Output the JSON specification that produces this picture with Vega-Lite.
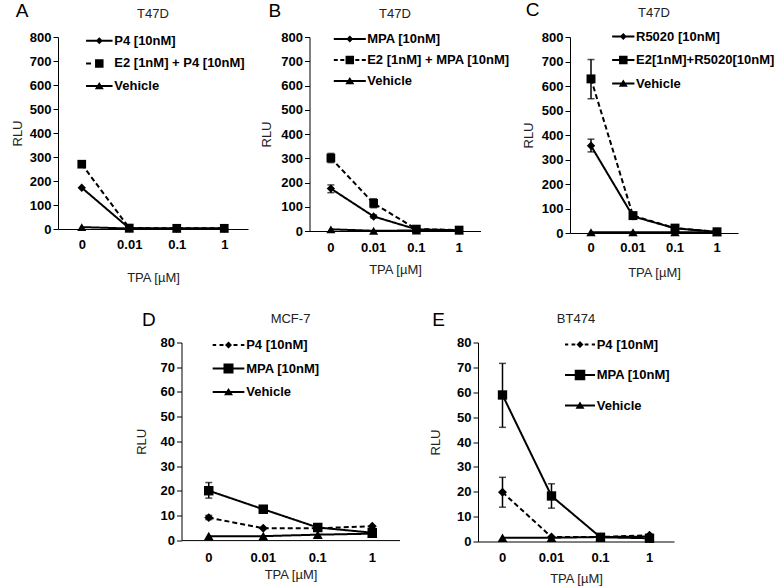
{
  "$schema": "https://vega.github.io/schema/vega-lite/v6.json",
  "padding": {"left": 11, "top": 1, "right": 0, "bottom": 0},
  "datasets": {
    "A": [
      {"series": "P4 [10nM]", "tpa": "0", "value": 172},
      {"series": "P4 [10nM]", "tpa": "0.01", "value": 3},
      {"series": "P4 [10nM]", "tpa": "0.1", "value": 2},
      {"series": "P4 [10nM]", "tpa": "1", "value": 2},
      {"series": "E2 [1nM] + P4 [10nM]", "tpa": "0", "value": 270},
      {"series": "E2 [1nM] + P4 [10nM]", "tpa": "0.01", "value": 4},
      {"series": "E2 [1nM] + P4 [10nM]", "tpa": "0.1", "value": 3},
      {"series": "E2 [1nM] + P4 [10nM]", "tpa": "1", "value": 3},
      {"series": "Vehicle", "tpa": "0", "value": 8},
      {"series": "Vehicle", "tpa": "0.01", "value": 2},
      {"series": "Vehicle", "tpa": "0.1", "value": 2},
      {"series": "Vehicle", "tpa": "1", "value": 2}
    ],
    "B": [
      {"series": "MPA [10nM]", "tpa": "0", "value": 175, "lo": 158, "hi": 190},
      {"series": "MPA [10nM]", "tpa": "0.01", "value": 60, "lo": 54, "hi": 66},
      {"series": "MPA [10nM]", "tpa": "0.1", "value": 7},
      {"series": "MPA [10nM]", "tpa": "1", "value": 3},
      {"series": "E2 [1nM] + MPA [10nM]", "tpa": "0", "value": 301, "lo": 282, "hi": 320},
      {"series": "E2 [1nM] + MPA [10nM]", "tpa": "0.01", "value": 114, "lo": 96, "hi": 133},
      {"series": "E2 [1nM] + MPA [10nM]", "tpa": "0.1", "value": 8},
      {"series": "E2 [1nM] + MPA [10nM]", "tpa": "1", "value": 4},
      {"series": "Vehicle", "tpa": "0", "value": 7},
      {"series": "Vehicle", "tpa": "0.01", "value": 1},
      {"series": "Vehicle", "tpa": "0.1", "value": 2},
      {"series": "Vehicle", "tpa": "1", "value": 2}
    ],
    "C": [
      {"series": "R5020 [10nM]", "tpa": "0", "value": 356, "lo": 331, "hi": 383},
      {"series": "R5020 [10nM]", "tpa": "0.01", "value": 68},
      {"series": "R5020 [10nM]", "tpa": "0.1", "value": 19},
      {"series": "R5020 [10nM]", "tpa": "1", "value": 5},
      {"series": "E2[1nM]+R5020[10nM]", "tpa": "0", "value": 629, "lo": 548, "hi": 708},
      {"series": "E2[1nM]+R5020[10nM]", "tpa": "0.01", "value": 71},
      {"series": "E2[1nM]+R5020[10nM]", "tpa": "0.1", "value": 20},
      {"series": "E2[1nM]+R5020[10nM]", "tpa": "1", "value": 5},
      {"series": "Vehicle", "tpa": "0", "value": 3},
      {"series": "Vehicle", "tpa": "0.01", "value": 3},
      {"series": "Vehicle", "tpa": "0.1", "value": 3},
      {"series": "Vehicle", "tpa": "1", "value": 3}
    ],
    "D": [
      {"series": "P4 [10nM]", "tpa": "0", "value": 9.1, "lo": 8.3, "hi": 10},
      {"series": "P4 [10nM]", "tpa": "0.01", "value": 4.8},
      {"series": "P4 [10nM]", "tpa": "0.1", "value": 4.8},
      {"series": "P4 [10nM]", "tpa": "1", "value": 5.6},
      {"series": "MPA [10nM]", "tpa": "0", "value": 20, "lo": 17, "hi": 23.3},
      {"series": "MPA [10nM]", "tpa": "0.01", "value": 12.5},
      {"series": "MPA [10nM]", "tpa": "0.1", "value": 5.1},
      {"series": "MPA [10nM]", "tpa": "1", "value": 3},
      {"series": "Vehicle", "tpa": "0", "value": 1.6},
      {"series": "Vehicle", "tpa": "0.01", "value": 1.6},
      {"series": "Vehicle", "tpa": "0.1", "value": 2.2},
      {"series": "Vehicle", "tpa": "1", "value": 2.6}
    ],
    "E": [
      {"series": "P4 [10nM]", "tpa": "0", "value": 19.8, "lo": 13.8, "hi": 25.8},
      {"series": "P4 [10nM]", "tpa": "0.01", "value": 1.8},
      {"series": "P4 [10nM]", "tpa": "0.1", "value": 1.8},
      {"series": "P4 [10nM]", "tpa": "1", "value": 2.5},
      {"series": "MPA [10nM]", "tpa": "0", "value": 58.9, "lo": 45.9, "hi": 71.6},
      {"series": "MPA [10nM]", "tpa": "0.01", "value": 18.3, "lo": 13.4, "hi": 23.2},
      {"series": "MPA [10nM]", "tpa": "0.1", "value": 1.7},
      {"series": "MPA [10nM]", "tpa": "1", "value": 1.3},
      {"series": "Vehicle", "tpa": "0", "value": 1.5},
      {"series": "Vehicle", "tpa": "0.01", "value": 1.5},
      {"series": "Vehicle", "tpa": "0.1", "value": 1.8},
      {"series": "Vehicle", "tpa": "1", "value": 2}
    ]
  },
  "spacing": 25.5,
  "vconcat": [
    {
      "spacing": 11.5,
      "hconcat": [
        {
          "title": {"text": "A", "anchor": "start", "frame": "bounds", "fontSize": 19, "color": "black", "offset": -13, "dx": 4},
          "hconcat": [
            {
              "title": {"text": "T47D", "offset": 9.7},
              "width": 190, "height": 192,
              "data": {"name": "A"},
              "resolve": {"scale": {"shape": "independent", "strokeDash": "independent", "size": "independent"}, "legend": {"shape": "independent"}},
              "encoding": {
                "x": {"field": "tpa", "type": "nominal", "sort": ["0", "0.01", "0.1", "1"], "title": "TPA [µM]", "axis": {"labelPadding": 9.2, "titlePadding": 20}},
                "y": {"field": "value", "type": "quantitative", "title": "RLU", "scale": {"domain": [0, 800], "nice": false}, "axis": {"values": [0, 100, 200, 300, 400, 500, 600, 700, 800], "tickCount": 9, "labelOverlap": false, "titlePadding": 4.6}}
              },
              "layer": [
                {"mark": {"type": "line", "color": "black", "strokeWidth": 2},
                 "encoding": {
                   "strokeDash": {"field": "series", "type": "nominal", "scale": {"domain": ["P4 [10nM]", "E2 [1nM] + P4 [10nM]", "Vehicle"], "range": [[1, 0], [5, 3], [1, 0]]}, "legend": null}}},
                {"mark": {"type": "point", "filled": true, "color": "black", "opacity": 1},
                 "encoding": {
                   "shape": {"field": "series", "type": "nominal", "scale": {"domain": ["P4 [10nM]", "E2 [1nM] + P4 [10nM]", "Vehicle"], "range": ["diamond", "square", "triangle-up"]}, "legend": null},
                   "size": {"field": "series", "type": "ordinal", "scale": {"domain": ["P4 [10nM]", "E2 [1nM] + P4 [10nM]", "Vehicle"], "range": [70, 81, 100]}, "legend": null}}},
                {"mark": {"type": "point", "filled": true, "color": "black", "opacity": 0},
                 "encoding": {
                   "shape": {"field": "series", "type": "nominal", "scale": {"domain": ["P4 [10nM]", "E2 [1nM] + P4 [10nM]", "Vehicle"], "range": ["M-2.65,-0.2H2.65V0.2H-2.65Z M0,-0.7L0.7,0L0,0.7L-0.7,0Z", "M-2.65,-0.2H-1.65V0.2H-2.65Z M-0.85,-0.85H0.85V0.85H-0.85Z", "M-2.65,-0.2H2.65V0.2H-2.65Z M0,-0.8L0.9,0.65H-0.9Z"]},
                     "legend": {"title": null, "orient": "none", "legendX": 34.8, "legendY": -2.8, "labelOffset": 8.5, "rowPadding": 8.7}}}}
              ]
            }
          ]
        },
        {
          "title": {"text": "B", "anchor": "start", "frame": "bounds", "fontSize": 19, "color": "black", "offset": -13, "dx": 8.5},
          "hconcat": [
            {
              "title": {"text": "T47D", "offset": 9.7},
              "width": 171, "height": 194,
              "data": {"name": "B"},
              "resolve": {"scale": {"shape": "independent", "strokeDash": "independent", "size": "independent"}, "legend": {"shape": "independent"}},
              "encoding": {
                "x": {"field": "tpa", "type": "nominal", "sort": ["0", "0.01", "0.1", "1"], "title": "TPA [µM]", "axis": {"labelPadding": 10, "titlePadding": 9}},
                "y": {"field": "value", "type": "quantitative", "title": "RLU", "scale": {"domain": [0, 800], "nice": false}, "axis": {"values": [0, 100, 200, 300, 400, 500, 600, 700, 800], "tickCount": 9, "labelOverlap": false, "titlePadding": 7.8}}
              },
              "layer": [
                {"mark": {"type": "line", "color": "black", "strokeWidth": 2},
                 "encoding": {
                   "strokeDash": {"field": "series", "type": "nominal", "scale": {"domain": ["MPA [10nM]", "E2 [1nM] + MPA [10nM]", "Vehicle"], "range": [[1, 0], [5, 3], [1, 0]]}, "legend": null}}},
                {"transform": [{"filter": "isValid(datum.lo)"}],
                 "mark": {"type": "rule", "color": "black", "strokeWidth": 1.5},
                 "encoding": {"y": {"field": "lo", "type": "quantitative", "title": "RLU"}, "y2": {"field": "hi"}}},
                {"transform": [{"filter": "isValid(datum.lo)"}],
                 "mark": {"type": "tick", "color": "black", "size": 7, "thickness": 1.5},
                 "encoding": {"y": {"field": "lo", "type": "quantitative", "title": "RLU"}}},
                {"transform": [{"filter": "isValid(datum.hi)"}],
                 "mark": {"type": "tick", "color": "black", "size": 7, "thickness": 1.5},
                 "encoding": {"y": {"field": "hi", "type": "quantitative", "title": "RLU"}}},
                {"mark": {"type": "point", "filled": true, "color": "black", "opacity": 1},
                 "encoding": {
                   "shape": {"field": "series", "type": "nominal", "scale": {"domain": ["MPA [10nM]", "E2 [1nM] + MPA [10nM]", "Vehicle"], "range": ["diamond", "square", "triangle-up"]}, "legend": null},
                   "size": {"field": "series", "type": "ordinal", "scale": {"domain": ["MPA [10nM]", "E2 [1nM] + MPA [10nM]", "Vehicle"], "range": [70, 81, 100]}, "legend": null}}},
                {"mark": {"type": "point", "filled": true, "color": "black", "opacity": 0},
                 "encoding": {
                   "shape": {"field": "series", "type": "nominal", "scale": {"domain": ["MPA [10nM]", "E2 [1nM] + MPA [10nM]", "Vehicle"], "range": ["M-3.2,-0.2H3.2V0.2H-3.2Z M0,-0.7L0.7,0L0,0.7L-0.7,0Z", "M-3.2,-0.2H-2.4V0.2H-3.2Z M-1.9,-0.2H-1.1V0.2H-1.9Z M-0.85,-0.85H0.85V0.85H-0.85Z M1.1,-0.2H1.9V0.2H1.1Z M2.4,-0.2H3.2V0.2H2.4Z", "M-3.2,-0.2H3.2V0.2H-3.2Z M0,-0.8L0.9,0.65H-0.9Z"]},
                     "legend": {"title": null, "orient": "none", "legendX": 33.8, "legendY": -4.5, "labelOffset": 10.9, "rowPadding": 7}}}}
              ]
            }
          ]
        },
        {
          "title": {"text": "C", "anchor": "start", "frame": "bounds", "fontSize": 19, "color": "black", "offset": -13, "dx": 3},
          "hconcat": [
            {
              "title": {"text": "T47D", "offset": 9.7},
              "width": 168, "height": 196,
              "data": {"name": "C"},
              "resolve": {"scale": {"shape": "independent", "strokeDash": "independent", "size": "independent"}, "legend": {"shape": "independent"}},
              "encoding": {
                "x": {"field": "tpa", "type": "nominal", "sort": ["0", "0.01", "0.1", "1"], "title": "TPA [µM]", "axis": {"labelPadding": 8.5, "titlePadding": 12.4}},
                "y": {"field": "value", "type": "quantitative", "title": "RLU", "scale": {"domain": [0, 800], "nice": false}, "axis": {"values": [0, 100, 200, 300, 400, 500, 600, 700, 800], "tickCount": 9, "labelOverlap": false, "titlePadding": 5.5}}
              },
              "layer": [
                {"mark": {"type": "line", "color": "black", "strokeWidth": 2},
                 "encoding": {
                   "strokeDash": {"field": "series", "type": "nominal", "scale": {"domain": ["R5020 [10nM]", "E2[1nM]+R5020[10nM]", "Vehicle"], "range": [[1, 0], [5, 3], [1, 0]]}, "legend": null}}},
                {"transform": [{"filter": "isValid(datum.lo)"}],
                 "mark": {"type": "rule", "color": "black", "strokeWidth": 1.5},
                 "encoding": {"y": {"field": "lo", "type": "quantitative", "title": "RLU"}, "y2": {"field": "hi"}}},
                {"transform": [{"filter": "isValid(datum.lo)"}],
                 "mark": {"type": "tick", "color": "black", "size": 7, "thickness": 1.5},
                 "encoding": {"y": {"field": "lo", "type": "quantitative", "title": "RLU"}}},
                {"transform": [{"filter": "isValid(datum.hi)"}],
                 "mark": {"type": "tick", "color": "black", "size": 7, "thickness": 1.5},
                 "encoding": {"y": {"field": "hi", "type": "quantitative", "title": "RLU"}}},
                {"mark": {"type": "point", "filled": true, "color": "black", "opacity": 1},
                 "encoding": {
                   "shape": {"field": "series", "type": "nominal", "scale": {"domain": ["R5020 [10nM]", "E2[1nM]+R5020[10nM]", "Vehicle"], "range": ["diamond", "square", "triangle-up"]}, "legend": null},
                   "size": {"field": "series", "type": "ordinal", "scale": {"domain": ["R5020 [10nM]", "E2[1nM]+R5020[10nM]", "Vehicle"], "range": [70, 90, 100]}, "legend": null}}},
                {"mark": {"type": "point", "filled": true, "color": "black", "opacity": 0},
                 "encoding": {
                   "shape": {"field": "series", "type": "nominal", "scale": {"domain": ["R5020 [10nM]", "E2[1nM]+R5020[10nM]", "Vehicle"], "range": ["M-2.23,-0.2H2.23V0.2H-2.23Z M0,-0.7L0.7,0L0,0.7L-0.7,0Z", "M-2.23,-0.2H2.23V0.2H-2.23Z M-0.85,-0.85H0.85V0.85H-0.85Z", "M-2.23,-0.2H2.23V0.2H-2.23Z M0,-0.8L0.9,0.65H-0.9Z"]},
                     "legend": {"title": null, "orient": "none", "legendX": 46.8, "legendY": -7, "labelOffset": 6.2, "rowPadding": 9.5}}}}
              ]
            }
          ]
        }
      ]
    },
    {
      "spacing": 29.5,
      "hconcat": [
        {"width": 47, "height": 1, "data": {"values": []}, "mark": "point"},
        {
          "title": {"text": "D", "anchor": "start", "frame": "bounds", "fontSize": 19, "color": "black", "offset": -17, "dx": 7},
          "hconcat": [
            {
              "title": {"text": "MCF-7", "offset": 10.7},
              "width": 218, "height": 197.6,
              "data": {"name": "D"},
              "resolve": {"scale": {"shape": "independent", "strokeDash": "independent", "size": "independent"}, "legend": {"shape": "independent"}},
              "encoding": {
                "x": {"field": "tpa", "type": "nominal", "sort": ["0", "0.01", "0.1", "1"], "title": "TPA [µM]", "axis": {"labelPadding": 10.9, "titlePadding": 4.5}},
                "y": {"field": "value", "type": "quantitative", "title": "RLU", "scale": {"domain": [0, 80], "nice": false}, "axis": {"values": [0, 10, 20, 30, 40, 50, 60, 70, 80], "tickCount": 9, "labelOverlap": false, "titlePadding": 12}}
              },
              "layer": [
                {"mark": {"type": "line", "color": "black", "strokeWidth": 2},
                 "encoding": {
                   "strokeDash": {"field": "series", "type": "nominal", "scale": {"domain": ["P4 [10nM]", "MPA [10nM]", "Vehicle"], "range": [[5, 3], [1, 0], [1, 0]]}, "legend": null}}},
                {"transform": [{"filter": "isValid(datum.lo)"}],
                 "mark": {"type": "rule", "color": "black", "strokeWidth": 1.5},
                 "encoding": {"y": {"field": "lo", "type": "quantitative", "title": "RLU"}, "y2": {"field": "hi"}}},
                {"transform": [{"filter": "isValid(datum.lo)"}],
                 "mark": {"type": "tick", "color": "black", "size": 7, "thickness": 1.5},
                 "encoding": {"y": {"field": "lo", "type": "quantitative", "title": "RLU"}}},
                {"transform": [{"filter": "isValid(datum.hi)"}],
                 "mark": {"type": "tick", "color": "black", "size": 7, "thickness": 1.5},
                 "encoding": {"y": {"field": "hi", "type": "quantitative", "title": "RLU"}}},
                {"mark": {"type": "point", "filled": true, "color": "black", "opacity": 1},
                 "encoding": {
                   "shape": {"field": "series", "type": "nominal", "scale": {"domain": ["P4 [10nM]", "MPA [10nM]", "Vehicle"], "range": ["diamond", "square", "triangle-up"]}, "legend": null},
                   "size": {"field": "series", "type": "ordinal", "scale": {"domain": ["P4 [10nM]", "MPA [10nM]", "Vehicle"], "range": [80, 100, 100]}, "legend": null}}},
                {"mark": {"type": "point", "filled": true, "color": "black", "opacity": 0},
                 "encoding": {
                   "shape": {"field": "series", "type": "nominal", "scale": {"domain": ["P4 [10nM]", "MPA [10nM]", "Vehicle"], "range": ["M-3.17,-0.2H-2.47V0.2H-3.17Z M-1.8,-0.2H-1.0V0.2H-1.8Z M0,-0.7L0.7,0L0,0.7L-0.7,0Z M1.0,-0.2H1.8V0.2H1.0Z M2.47,-0.2H3.17V0.2H2.47Z", "M-3.17,-0.2H3.17V0.2H-3.17Z M-1,-1H1V1H-1Z", "M-3.17,-0.2H3.17V0.2H-3.17Z M0,-0.8L0.9,0.65H-0.9Z"]},
                     "legend": {"title": null, "orient": "none", "legendX": 40.5, "legendY": -4, "labelOffset": 11.2, "rowPadding": 9.5}}}}
              ]
            }
          ]
        },
        {
          "title": {"text": "E", "anchor": "start", "frame": "bounds", "fontSize": 19, "color": "black", "offset": -17, "dx": 3},
          "hconcat": [
            {
              "title": {"text": "BT474", "offset": 10.2},
              "width": 196, "height": 199,
              "data": {"name": "E"},
              "resolve": {"scale": {"shape": "independent", "strokeDash": "independent", "size": "independent"}, "legend": {"shape": "independent"}},
              "encoding": {
                "x": {"field": "tpa", "type": "nominal", "sort": ["0", "0.01", "0.1", "1"], "title": "TPA [µM]", "axis": {"labelPadding": 10.2, "titlePadding": 7.5}},
                "y": {"field": "value", "type": "quantitative", "title": "RLU", "scale": {"domain": [0, 80], "nice": false}, "axis": {"values": [0, 10, 20, 30, 40, 50, 60, 70, 80], "tickCount": 9, "labelOverlap": false, "titlePadding": 14.3}}
              },
              "layer": [
                {"mark": {"type": "line", "color": "black", "strokeWidth": 2},
                 "encoding": {
                   "strokeDash": {"field": "series", "type": "nominal", "scale": {"domain": ["P4 [10nM]", "MPA [10nM]", "Vehicle"], "range": [[5, 3], [1, 0], [1, 0]]}, "legend": null}}},
                {"transform": [{"filter": "isValid(datum.lo)"}],
                 "mark": {"type": "rule", "color": "black", "strokeWidth": 1.5},
                 "encoding": {"y": {"field": "lo", "type": "quantitative", "title": "RLU"}, "y2": {"field": "hi"}}},
                {"transform": [{"filter": "isValid(datum.lo)"}],
                 "mark": {"type": "tick", "color": "black", "size": 7, "thickness": 1.5},
                 "encoding": {"y": {"field": "lo", "type": "quantitative", "title": "RLU"}}},
                {"transform": [{"filter": "isValid(datum.hi)"}],
                 "mark": {"type": "tick", "color": "black", "size": 7, "thickness": 1.5},
                 "encoding": {"y": {"field": "hi", "type": "quantitative", "title": "RLU"}}},
                {"mark": {"type": "point", "filled": true, "color": "black", "opacity": 1},
                 "encoding": {
                   "shape": {"field": "series", "type": "nominal", "scale": {"domain": ["P4 [10nM]", "MPA [10nM]", "Vehicle"], "range": ["diamond", "square", "triangle-up"]}, "legend": null},
                   "size": {"field": "series", "type": "ordinal", "scale": {"domain": ["P4 [10nM]", "MPA [10nM]", "Vehicle"], "range": [80, 95, 100]}, "legend": null}}},
                {"mark": {"type": "point", "filled": true, "color": "black", "opacity": 0},
                 "encoding": {
                   "shape": {"field": "series", "type": "nominal", "scale": {"domain": ["P4 [10nM]", "MPA [10nM]", "Vehicle"], "range": ["M-3,-0.2H-2.35V0.2H-3Z M-1.7,-0.2H-0.95V0.2H-1.7Z M0,-0.7L0.7,0L0,0.7L-0.7,0Z M0.95,-0.2H1.7V0.2H0.95Z M2.35,-0.2H3V0.2H2.35Z", "M-3,-0.2H3V0.2H-3Z M-1.05,-1.05H1.05V1.05H-1.05Z", "M-3,-0.2H3V0.2H-3Z M0,-0.8L0.9,0.65H-0.9Z"]},
                     "legend": {"title": null, "orient": "none", "legendX": 95.5, "legendY": -4.5, "labelOffset": 10.2, "rowPadding": 16.5}}}}
              ]
            }
          ]
        }
      ]
    }
  ],
  "config": {
    "view": {"stroke": null},
    "font": "Liberation Sans",
    "axis": {"grid": false, "domainColor": "black", "domainWidth": 1, "tickColor": "black", "labelFont": "Liberation Sans", "labelFontSize": 13, "labelFontWeight": "bold", "labelColor": "black", "titleFont": "Liberation Sans", "titleFontSize": 13, "titleFontWeight": "normal", "titleColor": "#222"},
    "axisX": {"ticks": false, "tickSize": 0, "labelAngle": 0},
    "axisY": {"tickSize": 5, "labelPadding": 2, "labelOverlap": false},
    "title": {"font": "Liberation Sans", "fontSize": 13, "fontWeight": "normal", "color": "#222", "anchor": "middle"},
    "legend": {"labelFont": "Liberation Sans", "labelFontSize": 13, "labelFontWeight": "bold", "labelColor": "black", "labelLimit": 300, "symbolSize": 100, "symbolStrokeWidth": 0, "symbolStrokeColor": "transparent", "symbolOpacity": 1, "padding": 0}
  }
}
